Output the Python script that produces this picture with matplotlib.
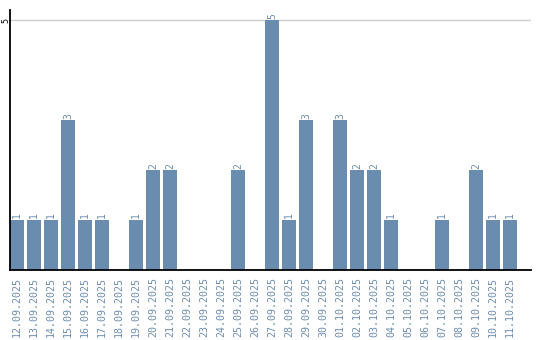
import matplotlib

matplotlib.use("Agg")
import matplotlib.pyplot as plt
import numpy as np

dates = [
    "12.09.2025", "13.09.2025", "14.09.2025", "15.09.2025", "16.09.2025",
    "17.09.2025", "18.09.2025", "19.09.2025", "20.09.2025", "21.09.2025",
    "22.09.2025", "23.09.2025", "24.09.2025", "25.09.2025", "26.09.2025",
    "27.09.2025", "28.09.2025", "29.09.2025", "30.09.2025", "01.10.2025",
    "02.10.2025", "03.10.2025", "04.10.2025", "05.10.2025", "06.10.2025",
    "07.10.2025", "08.10.2025", "09.10.2025", "10.10.2025", "11.10.2025",
]
counts = [
    1, 1, 1, 3, 1, 1, 0, 1, 2, 2,
    0, 0, 0, 2, 0, 5, 1, 3, 0, 3,
    2, 2, 1, 0, 0, 1, 0, 2, 1, 1,
]

BAR_COLOR = "#6a8caf"
TEXT_COLOR = "#6d8db0"


def main() -> None:
    fig = plt.figure(figsize=(5.4, 3.4), dpi=100)
    ax = fig.add_axes((10 / 540, 70 / 340, 521 / 540, 260 / 340))

    x = np.arange(len(dates))
    ax.bar(x, counts, width=14 / 17, color=BAR_COLOR, zorder=2)

    for xi, c in zip(x, counts):
        if c > 0:
            ax.text(
                xi, c + 0.03, str(c),
                rotation=90, ha="center", va="bottom",
                fontsize=7, family="DejaVu Sans Mono", color=TEXT_COLOR,
            )

    ax.set_xlim(-7 / 17, 514 / 17)
    ax.set_ylim(0, 5.2)

    ax.set_xticks(x)
    ax.set_xticklabels(dates, rotation=90, fontsize=7.2,
                       family="DejaVu Sans Mono", color=TEXT_COLOR)
    ax.set_yticks([5])
    ax.set_yticklabels(["5"], rotation=90, fontsize=6,
                       family="DejaVu Sans Mono", va="center")
    ax.tick_params(axis="both", length=0)
    ax.tick_params(axis="x", pad=5)
    ax.tick_params(axis="y", pad=0)

    ax.grid(axis="y", color="#cccccc", linewidth=1, zorder=0)
    for side in ("top", "right"):
        ax.spines[side].set_visible(False)
    for side in ("left", "bottom"):
        ax.spines[side].set_color("black")
        ax.spines[side].set_linewidth(1.3)

    fig.savefig("out.png", dpi=100)


if __name__ == "__main__":
    main()
